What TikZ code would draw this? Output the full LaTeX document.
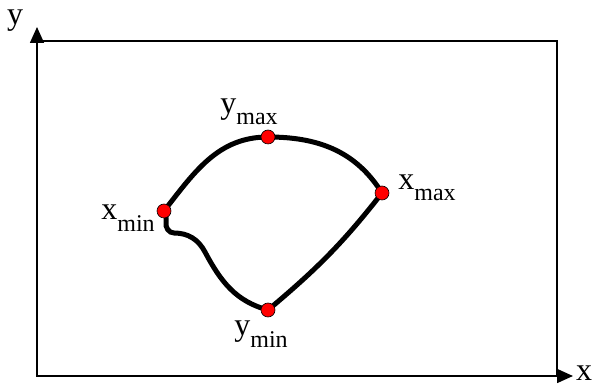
\documentclass[tikz,border=0pt]{standalone}
\usepackage{fontspec}
\setmainfont{Liberation Serif}
\usetikzlibrary{arrows.meta,positioning,calc}

\newcommand{\extlbl}[2]{#1\raisebox{-0.36em}{\fontsize{24}{24}\selectfont #2}}

\begin{document}
\begin{tikzpicture}[x=1pt,y=1pt,
    axis/.style={line width=1.6pt,-{Triangle[length=16pt,width=14pt]}},
    frame/.style={line width=1.3pt},
    contour/.style={line width=5pt,line cap=round},
    extpt/.style={fill=red,draw=black,line width=0.6pt},
    lbl/.style={font=\fontsize{32}{32}\selectfont,inner sep=0pt}]
    \useasboundingbox (0,0) rectangle (593,390);

    % axes and domain
    \coordinate (o) at (37,14);
    \coordinate (ytip) at (37,363);
    \coordinate (xtip) at (573,14);
    \draw[frame] (o) rectangle (557,349);
    \draw[axis] (o) -- (ytip);
    \draw[axis] (o) -- (xtip);
    \node[lbl] (ylab) at (15,369) {y};
    \node[lbl] (xlab) at (584,17) {x};

    % extreme points of the contour
    \coordinate (ymax) at (268,253);
    \coordinate (xmax) at (382,197);
    \coordinate (xmin) at (164,179);
    \coordinate (ymin) at (268,80);

    % the contour
    \draw[contour] (xmin) to[out=52,in=180] (ymax)
        to[out=0,in=122] (xmax)
        to[out=-128,in=40] (ymin)
        to[out=165,in=-62] (205,138)
        to[out=118,in=0] (174,157)
        to[out=180,in=-100] (166,168)
        to[out=80,in=-70] (xmin);

    \foreach \p in {ymax,xmax,xmin,ymin}
        \fill[extpt] (\p) circle (7);

    \node[lbl] (lymax) at (249,278) {\extlbl{y}{max}};
    \node[lbl] (lxmax) at (427,202) {\extlbl{x}{max}};
    \node[lbl] (lxmin) at (128,172) {\extlbl{x}{min}};
    \node[lbl] (lymin) at (261,56) {\extlbl{y}{min}};
\end{tikzpicture}
\end{document}
